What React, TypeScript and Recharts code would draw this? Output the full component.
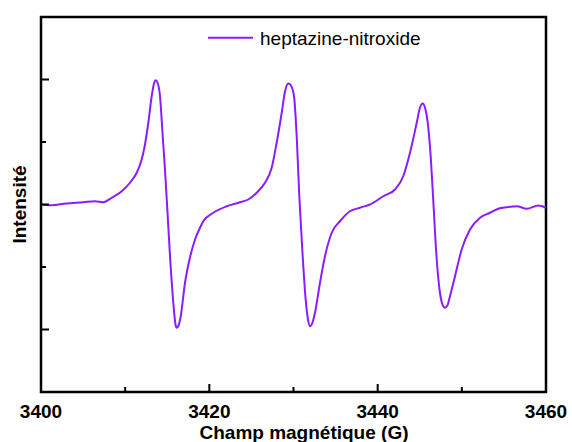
import React from 'react';
import { LineChart, Line, XAxis, YAxis, ReferenceArea, Legend } from 'recharts';

const fieldG = [
  3400.0, 3401.07, 3403.05, 3405.03, 3406.42, 3407.4, 3408.4, 3409.59, 3410.57, 3411.37,
  3411.96, 3412.3, 3412.75, 3413.15, 3413.43, 3413.63, 3413.84, 3414.14,
  3414.46, 3414.73, 3415.01, 3415.33, 3415.72, 3415.98, 3416.12, 3416.34, 3416.6, 3417.11,
  3417.7, 3418.3, 3418.89, 3419.28, 3420.47, 3422.06, 3423.64, 3424.63, 3425.63, 3426.61,
  3427.41, 3428.0, 3428.6, 3428.99, 3429.38, 3429.7, 3430.06, 3430.38, 3430.69, 3431.09,
  3431.48, 3431.72, 3431.96, 3432.26, 3432.55, 3433.15, 3433.74, 3434.54, 3435.52, 3436.71,
  3437.9, 3439.09, 3440.67, 3442.06, 3443.04, 3443.84, 3444.64, 3445.03, 3445.35, 3445.62, 3445.9,
  3446.3, 3446.6, 3446.99, 3447.4, 3447.7, 3448.0, 3448.3, 3448.59, 3449.19, 3449.98,
  3450.97, 3452.16, 3453.35, 3454.33, 3455.33, 3456.52, 3457.71, 3459.08, 3460.0,
];

const intensity = [
  0.0, -0.006, 0.008, 0.018, 0.026, 0.018, 0.054, 0.106, 0.174, 0.254,
  0.36, 0.46, 0.654, 0.866, 0.968, 0.994, 0.976, 0.866,
  0.546, 0.28, -0.04, -0.414, -0.786, -0.96, -0.986, -0.968, -0.894, -0.626,
  -0.424, -0.28, -0.186, -0.134, -0.066, -0.014, 0.018, 0.04, 0.094, 0.174,
  0.294, 0.494, 0.734, 0.904, 0.968, 0.952, 0.866, 0.546, 0.066, -0.414,
  -0.786, -0.92, -0.974, -0.944, -0.866, -0.626, -0.414, -0.226, -0.134, -0.054,
  -0.026, 0.0, 0.066, 0.12, 0.226, 0.414, 0.654, 0.776, 0.808, 0.776, 0.68,
  0.386, 0.04, -0.414, -0.706, -0.8, -0.826, -0.805, -0.734, -0.574, -0.36,
  -0.2, -0.106, -0.066, -0.034, -0.022, -0.014, -0.034, -0.008, -0.026,
];

const xTicks = [3400, 3410, 3420, 3430, 3440, 3450, 3460];
const yTicks = [-1, -0.5, 0, 0.5, 1];
const seriesName = 'heptazine-nitroxide';
const xTitle = 'Champ magnétique (G)';
const yTitle = 'Intensité';

const data = fieldG.map((g, i) => ({ g, v: intensity[i] }));

const FONT = '"Liberation Sans", Arial, sans-serif';
const PURPLE = '#8B1CFF';

const XTick = (props: any) => {
  const { x, y, payload } = props;
  const major = payload.value % 20 === 0;
  return (
    <g>
      <line x1={x} x2={x} y1={y} y2={y - (major ? 8 : 5)} stroke="#000" strokeWidth={2} />
      {major && (
        <text x={x} y={y + 26} textAnchor="middle" fontFamily={FONT} fontWeight="bold" fontSize={19} fill="#000">
          {payload.value}
        </text>
      )}
    </g>
  );
};

const YTick = (props: any) => {
  const { x, y, payload } = props;
  const major = Number.isInteger(payload.value);
  return <line x1={x} x2={x + (major ? 8 : 5)} y1={y} y2={y} stroke="#000" strokeWidth={2} />;
};

const LegendContent = () => (
  <svg width={260} height={30} style={{ display: 'block' }}>
    <line x1={8} x2={53} y1={17.7} y2={17.7} stroke={PURPLE} strokeWidth={2} />
    <text x={60} y={25} fontFamily={FONT} fontSize={19} fill="#000">
      {seriesName}
    </text>
  </svg>
);

export default function App() {
  return (
    <div style={{ position: 'absolute', left: 0, top: 0, width: 572, height: 442, background: '#fff' }}>
      <LineChart width={572} height={442} data={data} margin={{ top: 17, right: 26, left: 0, bottom: 0 }}>
        <XAxis
          dataKey="g"
          type="number"
          domain={[3400, 3460]}
          ticks={xTicks}
          interval={0}
          height={50}
          tickSize={0}
          tickMargin={0}
          tickLine={false}
          axisLine={false}
          tick={<XTick />}
          label={(p: any) => {
            const vb = p.viewBox || {};
            return (
              <text
                x={(vb.x ?? 41) + (vb.width ?? 505) / 2 + 10.5}
                y={439}
                textAnchor="middle"
                fontFamily={FONT}
                fontWeight="bold"
                fontSize={19}
                fill="#000"
              >
                {xTitle}
              </text>
            );
          }}
        />
        <YAxis
          type="number"
          domain={[-1.5, 1.5]}
          ticks={yTicks}
          interval={0}
          width={41}
          tickSize={0}
          tickMargin={0}
          tickLine={false}
          axisLine={false}
          tick={<YTick />}
          allowDataOverflow
          label={(p: any) => {
            const vb = p.viewBox || {};
            const cy = (vb.y ?? 17) + (vb.height ?? 375) / 2;
            return (
              <text
                transform={`translate(26, ${cy}) rotate(-90)`}
                x={0}
                y={0}
                textAnchor="middle"
                fontFamily={FONT}
                fontWeight="bold"
                fontSize={19}
                fill="#000"
              >
                {yTitle}
              </text>
            );
          }}
        />
        <Line
          type="monotone"
          dataKey="v"
          stroke={PURPLE}
          strokeWidth={2}
          dot={false}
          isAnimationActive={false}
          name={seriesName}
        />
        <ReferenceArea
          x1={3400}
          x2={3460}
          y1={-1.5}
          y2={1.5}
          fill="none"
          fillOpacity={0}
          stroke="#000"
          strokeWidth={2.5}
          ifOverflow="visible"
        />
        <Legend
          layout="vertical"
          verticalAlign="middle"
          align="center"
          content={<LegendContent />}
          wrapperStyle={{ position: 'absolute', top: 20, left: 200, width: 260 }}
        />
      </LineChart>
    </div>
  );
}
